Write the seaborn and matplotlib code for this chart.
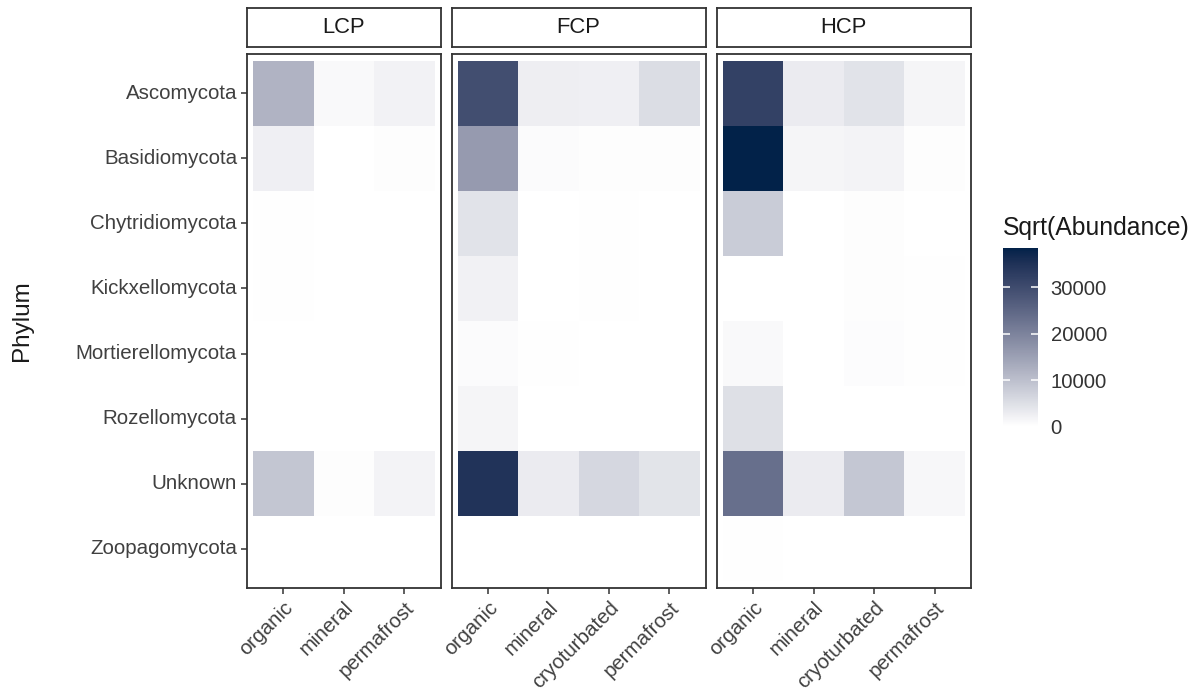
import numpy as np
import pandas as pd
import matplotlib
matplotlib.use("Agg")
import matplotlib.pyplot as plt
from matplotlib.colors import ListedColormap, Normalize
from matplotlib.cm import ScalarMappable
import seaborn as sns

# ---- data -------------------------------------------------------------
phyla = ["Ascomycota", "Basidiomycota", "Chytridiomycota", "Kickxellomycota",
         "Mortierellomycota", "Rozellomycota", "Unknown", "Zoopagomycota"]

sites = ["LCP", "FCP", "HCP"]
lcp_horizons = ["organic", "mineral", "permafrost"]
fcp_horizons = ["organic", "mineral", "cryoturbated", "permafrost"]
hcp_horizons = ["organic", "mineral", "cryoturbated", "permafrost"]

# rows follow `phyla`, columns follow the horizons of each site
lcp_values = [
    [11900, 900, 2000],
    [2400, 0, 300],
    [200, 0, 0],
    [250, 0, 0],
    [0, 0, 0],
    [0, 0, 0],
    [8900, 300, 1900],
    [0, 0, 0],
]
fcp_values = [
    [29500, 2600, 2400, 5300],
    [15900, 700, 400, 300],
    [4400, 0, 150, 0],
    [2100, 0, 150, 0],
    [700, 150, 100, 100],
    [1500, 0, 0, 0],
    [34700, 3100, 6200, 4300],
    [0, 0, 0, 0],
]
hcp_values = [
    [31900, 3100, 4400, 1500],
    [38400, 1500, 1900, 400],
    [8000, 0, 300, 0],
    [100, 0, 400, 250],
    [1000, 0, 500, 250],
    [4900, 0, 0, 0],
    [23400, 3100, 8800, 1200],
    [150, 0, 0, 0],
]
legend_breaks = [0, 10000, 20000, 30000]

panels = [
    ("LCP", lcp_horizons, lcp_values),
    ("FCP", fcp_horizons, fcp_values),
    ("HCP", hcp_horizons, hcp_values),
]

# ---- white -> navy gradient interpolated in CIE Lab --------------------
WHITE_REF = np.array([0.95047, 1.0, 1.08883])
M_RGB2XYZ = np.array([[0.4124, 0.3576, 0.1805],
                      [0.2126, 0.7152, 0.0722],
                      [0.0193, 0.1192, 0.9505]])
EPS, KAPPA = 216 / 24389, 24389 / 27


def srgb_to_lab(rgb):
    c = np.asarray(rgb, float)
    lin = np.where(c <= 0.04045, c / 12.92, ((c + 0.055) / 1.055) ** 2.4)
    xyz = lin @ M_RGB2XYZ.T / WHITE_REF
    f = np.where(xyz > EPS, np.cbrt(xyz), (KAPPA * xyz + 16) / 116)
    return np.stack([116 * f[..., 1] - 16,
                     500 * (f[..., 0] - f[..., 1]),
                     200 * (f[..., 1] - f[..., 2])], axis=-1)


def lab_to_srgb(lab):
    L, a, b = lab[..., 0], lab[..., 1], lab[..., 2]
    fy = (L + 16) / 116
    fx = fy + a / 500
    fz = fy - b / 200
    f = np.stack([fx, fy, fz], axis=-1)
    xyz = np.where(f ** 3 > EPS, f ** 3, (116 * f - 16) / KAPPA) * WHITE_REF
    lin = xyz @ np.linalg.inv(M_RGB2XYZ).T
    lin = np.clip(lin, 0, 1)
    c = np.where(lin <= 0.0031308, 12.92 * lin, 1.055 * lin ** (1 / 2.4) - 0.055)
    return np.clip(c, 0, 1)


low = np.array([1.0, 1.0, 1.0])
high = np.array(matplotlib.colors.to_rgb("#022249"))
t = np.linspace(0, 1, 256)[:, None]
lab = srgb_to_lab(low) * (1 - t) + srgb_to_lab(high) * t
cmap = ListedColormap(lab_to_srgb(lab))

vmax = max(np.max(lcp_values), np.max(fcp_values), np.max(hcp_values))
vmin = 0

# ---- figure -----------------------------------------------------------
sns.set_theme(style="white")
plt.rcParams["font.family"] = ["Liberation Sans", "DejaVu Sans"]

W, H = 1197, 691
fig = plt.figure(figsize=(W / 100, H / 100), dpi=100)


def px_axes(left, top, width, height):
    return fig.add_axes([left / W, 1 - (top + height) / H, width / W, height / H])


unit = 60.5          # pixel width of one tile column
pad = 0.1            # padding (in tiles) inside each panel
gap = 11.0
panel_top, panel_bottom = 54.0, 588.0
strip_top, strip_bottom = 8.0, 47.0
edge = "#333333"
tick_col = "#404040"

x0 = 247.0
n_rows = len(phyla)
for i, (site, horizons, values) in enumerate(panels):
    n = len(horizons)
    width = (n + 2 * pad) * unit
    ax = px_axes(x0, panel_top, width, panel_bottom - panel_top)
    df = pd.DataFrame(values, index=phyla, columns=horizons)
    sns.heatmap(df, ax=ax, cmap=cmap, vmin=vmin, vmax=vmax, cbar=False,
                xticklabels=True, yticklabels=(i == 0), linewidths=0)
    ax.set_xlim(-pad, n + pad)
    ax.set_ylim(n_rows + pad, -pad)
    ax.set_xlabel("")
    ax.set_ylabel("")
    for s in ax.spines.values():
        s.set_visible(True)
        s.set_color(edge)
        s.set_linewidth(1.3)
    ax.tick_params(axis="x", bottom=True, length=4.2, width=1.1, color=edge,
                   pad=3, labelsize=14.8, labelcolor=tick_col)
    plt.setp(ax.get_xticklabels(), rotation=45, ha="right", va="top",
             rotation_mode="anchor")
    if i == 0:
        ax.tick_params(axis="y", left=True, length=4.2, width=1.1, color=edge,
                       pad=3, labelsize=14.8, labelcolor=tick_col)
        plt.setp(ax.get_yticklabels(), rotation=0)
    else:
        ax.tick_params(axis="y", left=False, labelleft=False)

    # facet strip
    sax = px_axes(x0, strip_top, width, strip_bottom - strip_top)
    sax.set_xticks([])
    sax.set_yticks([])
    sax.set_facecolor("white")
    for s in sax.spines.values():
        s.set_visible(True)
        s.set_color(edge)
        s.set_linewidth(1.3)
    sax.text(0.5, 0.5, site, ha="center", va="center", fontsize=15.8,
             color="#1A1A1A", transform=sax.transAxes)

    x0 += width + gap

fig.text(22 / W, 1 - 321 / H, "Phylum", rotation=90, ha="center", va="center",
         fontsize=17.5, color="#1A1A1A")

# ---- colourbar legend -------------------------------------------------
cax = px_axes(1003, 248, 35, 426.5 - 248)
sm = ScalarMappable(norm=Normalize(vmin=vmin, vmax=vmax), cmap=cmap)
cb = fig.colorbar(sm, cax=cax, ticks=legend_breaks)
cb.outline.set_visible(False)
cax.set_axisbelow(False)
cb.ax.set_yticklabels([str(b) for b in legend_breaks])
cax.tick_params(axis="y", direction="in", left=True, right=True, length=5.2,
                width=1.1, color="white", pad=9, labelsize=14.6,
                labelcolor="#333333")
fig.text(1003 / W, 1 - 228 / H, "Sqrt(Abundance)", ha="left", va="center",
         fontsize=17.8, color="#1A1A1A")

fig.savefig("out.png", dpi=100, facecolor="white")
